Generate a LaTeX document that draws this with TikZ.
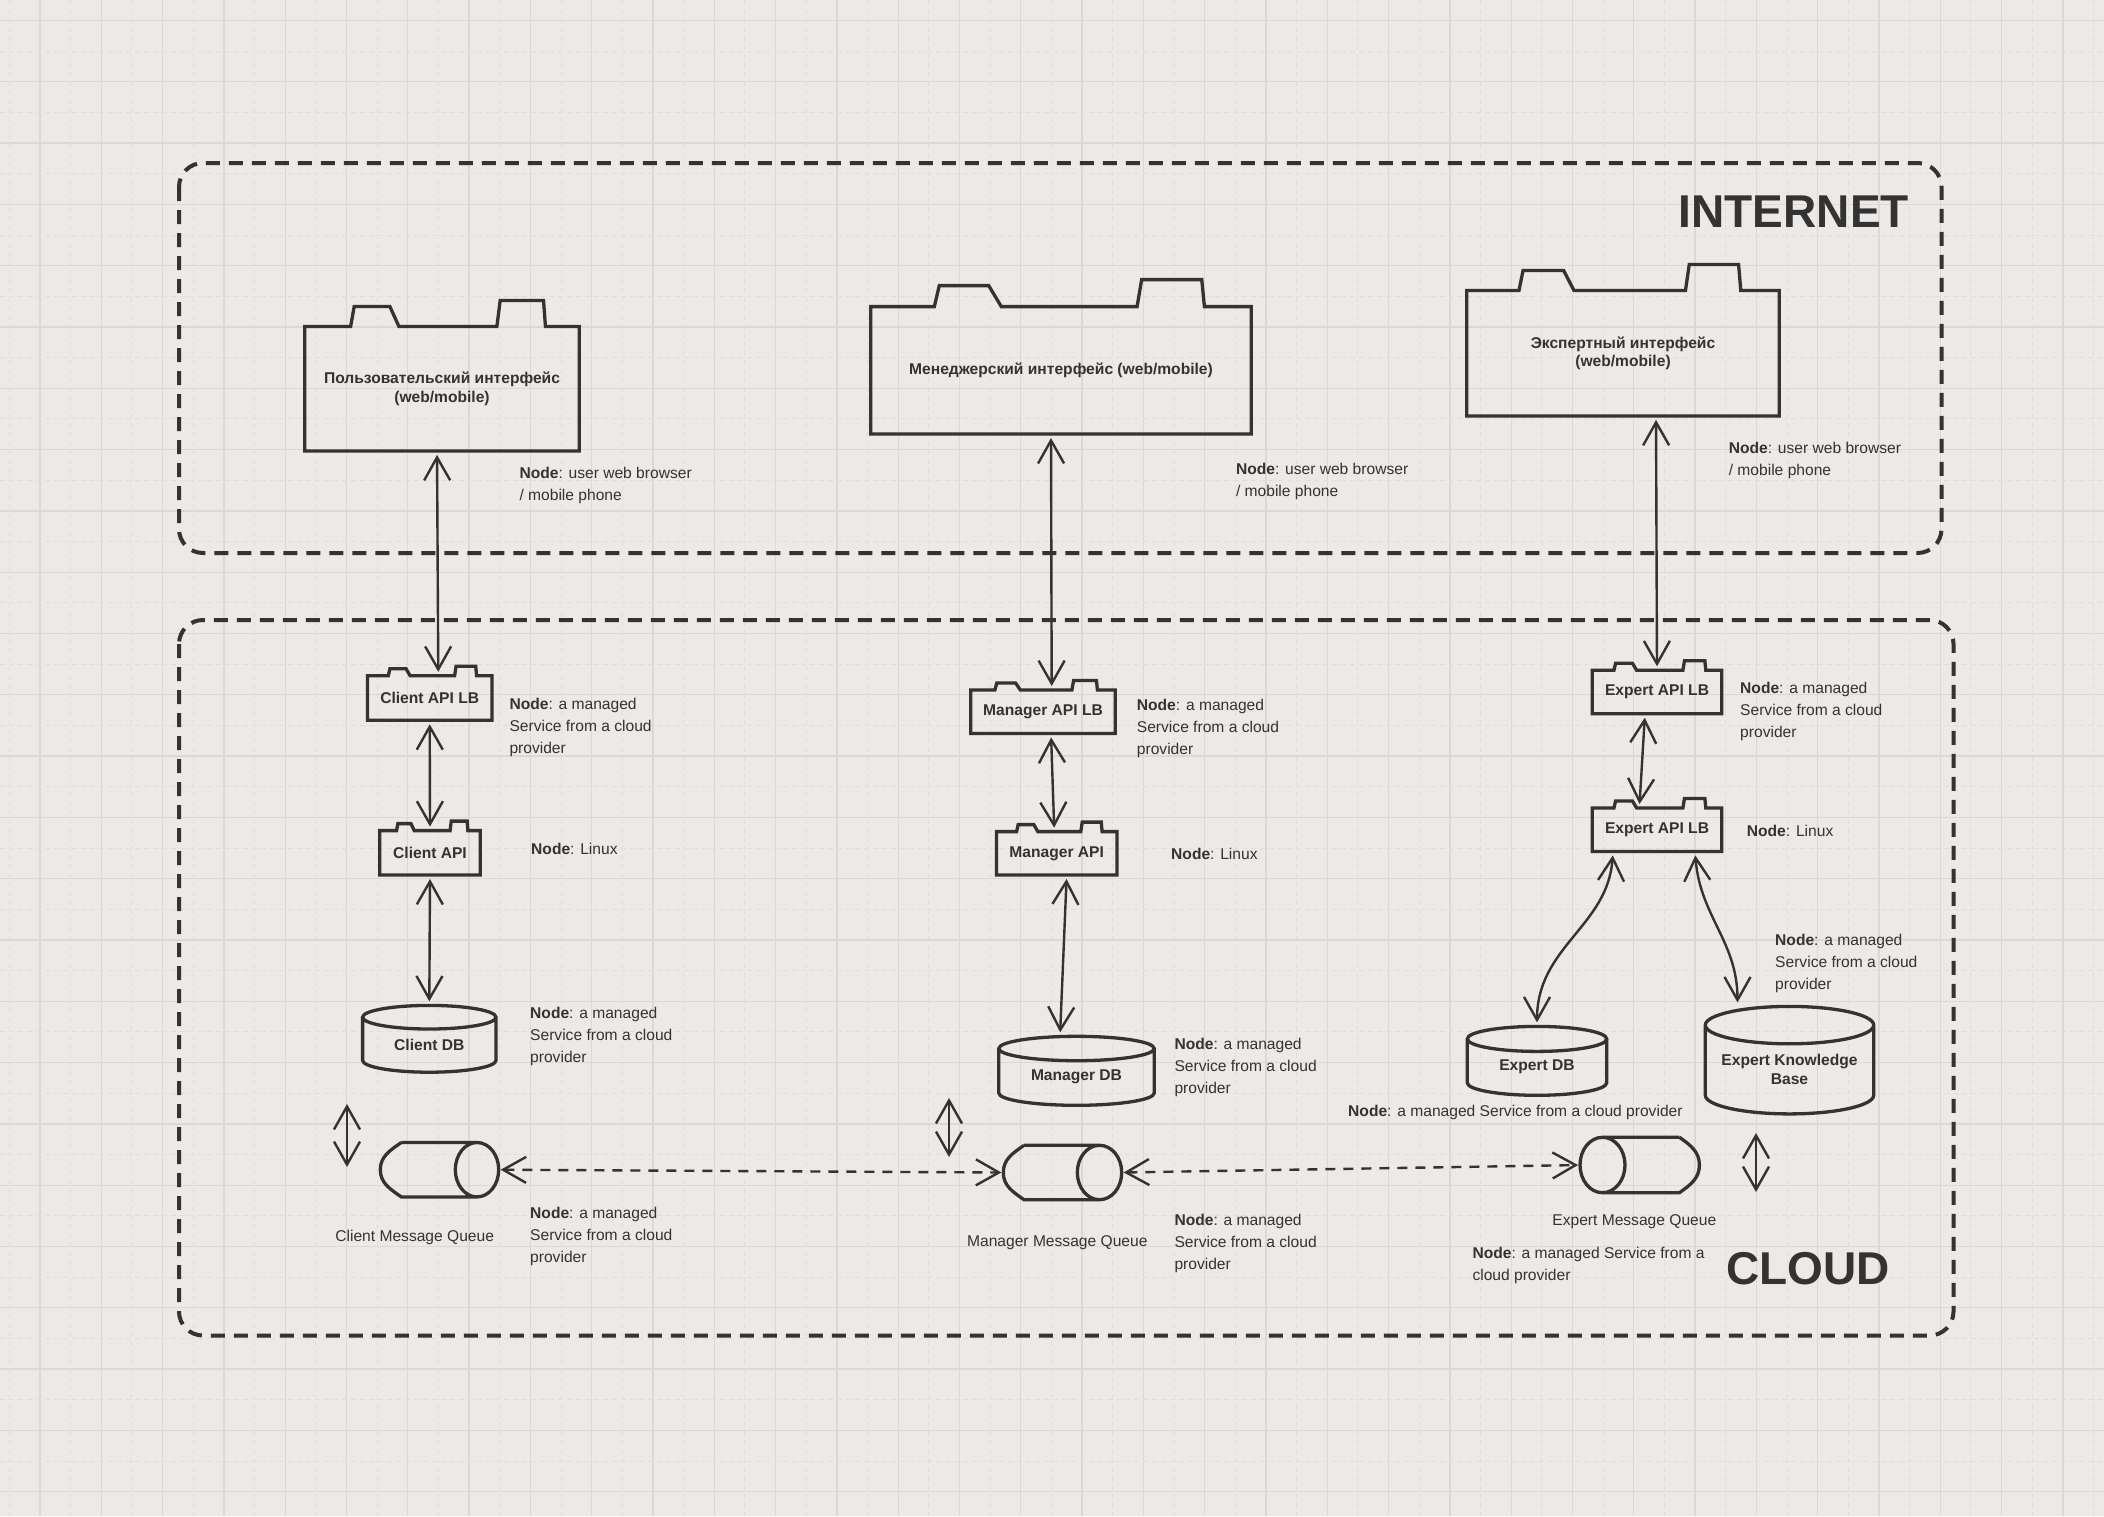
\documentclass[tikz,border=0pt]{standalone}
\usepackage{fontspec}
\setmainfont{Liberation Sans}
\usetikzlibrary{arrows.meta,calc}
\definecolor{inkc}{HTML}{333333}
\definecolor{paper}{HTML}{ECE9E6}
\definecolor{gridmaj}{HTML}{DBD8D5}
\definecolor{gridmin}{HTML}{E0DDDA}

\tikzset{
  ink/.style={draw=inkc, line width=3.3pt},
  zone/.style={draw=inkc, line width=4pt, dash pattern=on 14pt off 9pt, rounded corners=24pt},
  boxtext/.style={inner sep=0pt, text=inkc, align=center, font=\bfseries\fontsize{15.6}{18.5}\selectfont},
  qbox/.style={inner sep=0pt, draw=none},
  note/.style={anchor=west, inner sep=0pt, text=inkc, align=left, font=\fontsize{15.6}{22}\selectfont},
  qlabel/.style={inner sep=0pt, text=inkc, font=\fontsize{15.6}{18}\selectfont},
  title/.style={inner sep=0pt, text=inkc, font=\bfseries\fontsize{46}{46}\selectfont},
  barb/.tip={Straight Barb[length=23pt,width=26pt]},
  link/.style={draw=inkc, line width=2.4pt, barb-barb, shorten <=4pt, shorten >=4pt},
  qlink/.style={link, dash pattern=on 10pt off 8pt, shorten <=2pt, shorten >=2pt},
}

% package outline with two tabs
\newcommand{\pkgoutline}[3]{%
  \draw[ink] (#1.north west)
    -- ($(#1.north west)!.167!(#1.north east)$)
    -- ($(#1.north west)!.18!(#1.north east)+(0,-#2)$)
    -- ($(#1.north west)!.31!(#1.north east)+(0,-#2)$)
    -- ($(#1.north west)!.343!(#1.north east)$)
    -- ($(#1.north west)!.70!(#1.north east)$)
    -- ($(#1.north west)!.712!(#1.north east)+(0,-#3)$)
    -- ($(#1.north west)!.87!(#1.north east)+(0,-#3)$)
    -- ($(#1.north west)!.877!(#1.north east)$)
    -- (#1.north east) -- (#1.south east) -- (#1.south west) -- cycle;
}
% database cylinder
\newcommand{\dboutline}[2]{%
  \draw[ink] let \p1=(#1.north west), \p2=(#1.north east), \n1={(\x2-\x1)/2} in
    ($(#1.north)+(0,-#2)$) ellipse [x radius=\n1, y radius=#2pt]
    ($(#1.north west)+(0,-#2)$) -- (#1.south west)
      arc [start angle=180, end angle=360, x radius=\n1, y radius=#2pt]
      -- ($(#1.north east)+(0,-#2)$);
  \coordinate (#1-top) at ($(#1.north)+(0,{-2*#2})$);
}
% queue, end to the right
\newcommand{\queueoutline}[3]{%
  \draw[ink] let \p1=(#1.north), \p2=(#1.south), \n1={(\y1-\y2)/2} in
    ($(#1.north west)+(#3,0)$) to[out=215,in=90] (#1.west)
      to[out=-90,in=145] ($(#1.south west)+(#3,0)$)
      -- ($(#1.south east)+(-#2,0)$)
    ($(#1.north west)+(#3,0)$) -- ($(#1.north east)+(-#2,0)$)
    ($(#1.east)+(-#2,0)$) ellipse [x radius=#2pt, y radius=\n1];
}
% queue, end to the left
\newcommand{\queueoutlineR}[3]{%
  \draw[ink] let \p1=(#1.north), \p2=(#1.south), \n1={(\y1-\y2)/2} in
    ($(#1.north east)+(-#3,0)$) to[out=-35,in=90] (#1.east)
      to[out=-90,in=35] ($(#1.south east)+(-#3,0)$)
      -- ($(#1.south west)+(#2,0)$)
    ($(#1.north east)+(-#3,0)$) -- ($(#1.north west)+(#2,0)$)
    ($(#1.west)+(#2,0)$) ellipse [x radius=#2pt, y radius=\n1];
}

\begin{document}
\begin{tikzpicture}[x=1pt,y=-1pt]
\useasboundingbox (0,0) rectangle (2104,1516);
\fill[paper] (0,0) rectangle (2104,1516);
%grade
\foreach \i in {-1,...,34} {
  \draw[gridmin, line width=1pt, dash pattern=on 5pt off 4pt] ({70.65+61.3*\i},0) -- ++(0,1516);
  \draw[gridmaj, line width=1.3pt] ({40+61.3*\i},0) -- ++(0,1516);
}
\foreach \j in {-1,...,25} {
  \draw[gridmin, line width=1pt, dash pattern=on 5pt off 4pt] (0,{51.15+61.3*\j}) -- ++(2104,0);
  \draw[gridmaj, line width=1.3pt] (0,{20.5+61.3*\j}) -- ++(2104,0);
}

%zonas
\draw[zone] (179,163) rectangle (1941.5,553);
\draw[zone] (179,620) rectangle (1953.5,1335.5);
\node[title, anchor=east] (inet) at (1909,211.7) {INTERNET};
\node[title, anchor=west] (cloud) at (1726,1268.3) {CLOUD};

%interfaces
\node[boxtext, minimum width=274pt, minimum height=124pt] (cui) at (442,388.7) {Пользовательский интерфейс\\(web/mobile)};
\node[boxtext, minimum width=380pt, minimum height=127pt] (mui) at (1061,370.3) {Менеджерский интерфейс (web/mobile)};
\node[boxtext, minimum width=312pt, minimum height=125pt] (eui) at (1623,353.2) {Экспертный интерфейс\\(web/mobile)};
\pkgoutline{cui}{20}{26}
\pkgoutline{mui}{21}{27}
\pkgoutline{eui}{20}{26}

%api
\node[boxtext, minimum width=124pt, minimum height=44pt] (clb) at (429.7,698) {Client API LB};
\node[boxtext, minimum width=100pt, minimum height=44pt] (capi) at (430,852.8) {Client API};
\node[boxtext, minimum width=144pt, minimum height=43pt] (mlb) at (1043,711.7) {Manager API LB};
\node[boxtext, minimum width=120pt, minimum height=43pt] (mapi) at (1056.7,853.3) {Manager API};
\node[boxtext, minimum width=129pt, minimum height=43pt] (elb) at (1657,692) {Expert API LB};
\node[boxtext, minimum width=129pt, minimum height=43pt] (eapi) at (1657,829.7) {Expert API LB};
\foreach \n in {clb,capi,mlb,mapi,elb,eapi} {\pkgoutline{\n}{7}{9.5}}

%bases
\node[boxtext, minimum width=133pt, minimum height=31pt] (cdb) at (429.3,1044.7) {Client DB};
\node[boxtext, minimum width=155pt, minimum height=32pt] (mdb) at (1076.5,1076.9) {Manager DB};
\node[boxtext, minimum width=139pt, minimum height=31pt] (edb) at (1537,1067.1) {Expert DB};
\node[boxtext, minimum width=168pt, minimum height=51pt] (ekb) at (1789.5,1069.5) {Expert Knowledge\\Base};
\dboutline{cdb}{11.8}
\dboutline{mdb}{12.2}
\dboutline{edb}{12.5}
\dboutline{ekb}{18.7}

%filas
\node[qbox, minimum width=118pt, minimum height=54pt] (cq) at (439.5,1169.7) {};
\node[qbox, minimum width=118pt, minimum height=54pt] (mq) at (1062.5,1172.5) {};
\node[qbox, minimum width=119pt, minimum height=55pt] (eq) at (1639.7,1165) {};
\queueoutline{cq}{21.7}{21}
\queueoutline{mq}{22.2}{20.7}
\queueoutlineR{eq}{22.5}{20}
\node[qlabel] (cql) at (414.7,1237.7) {Client Message Queue};
\node[qlabel] (mql) at (1057.3,1242.7) {Manager Message Queue};
\node[qlabel] (eql) at (1634.3,1221.7) {Expert Message Queue};

%ligacoes
\draw[link] ([xshift=-5pt]cui.south) -- ([xshift=8.6pt]clb.north);
\draw[link] (clb.south) -- (capi.north);
\draw[link] (capi.south) -- (cdb-top);
\draw[link] ([xshift=-10pt]mui.south) -- ([xshift=8.7pt]mlb.north);
\draw[link] ([xshift=8pt]mlb.south) -- ([xshift=-2.4pt]mapi.north);
\draw[link] ([xshift=10pt]mapi.south) -- ([xshift=-16.5pt]mdb-top);
\draw[link] ([xshift=33pt]eui.south) -- (elb.north);
\draw[link] ([xshift=-12pt]elb.south) -- ([xshift=-17.7pt]eapi.north);
\draw[link] ([xshift=-44pt]eapi.south) .. controls +(-5,75) and +(0,-80) .. (edb-top);
\draw[link] ([xshift=38pt]eapi.south) .. controls +(5,65) and +(0,-65) .. ([xshift=-52pt]ekb-top);
\draw[qlink] (cq.east) -- (mq.west);
\draw[qlink] (mq.east) -- (eq.west);
\coordinate (ca1) at (347,1104);
\coordinate (ca2) at (347,1167);
\coordinate (ma1) at (949,1098);
\coordinate (ma2) at (949,1157);
\coordinate (ea1) at (1756,1133);
\coordinate (ea2) at (1756,1192);
\draw[link, shorten <=0pt, shorten >=0pt] (ca1) -- (ca2);
\draw[link, shorten <=0pt, shorten >=0pt] (ma1) -- (ma2);
\draw[link, shorten <=0pt, shorten >=0pt] (ea1) -- (ea2);

%rotulos
\node[note] (cuin) at (519.3,485.8) {\textbf{Node}: user web browser\\/ mobile phone};
\node[note] (muin) at (1235.8,481.7) {\textbf{Node}: user web browser\\/ mobile phone};
\node[note] (euin) at (1728.6,460.8) {\textbf{Node}: user web browser\\/ mobile phone};
\node[note] (clbn) at (509.3,727.8) {\textbf{Node}: a managed\\Service from a cloud\\provider};
\node[note] (capin) at (531,849) {\textbf{Node}: Linux};
\node[note] (cdbn) at (530,1036) {\textbf{Node}: a managed\\Service from a cloud\\provider};
\node[note] (cqn) at (530,1236.8) {\textbf{Node}: a managed\\Service from a cloud\\provider};
\node[note] (mlbn) at (1136.7,728) {\textbf{Node}: a managed\\Service from a cloud\\provider};
\node[note] (mapin) at (1171,854.3) {\textbf{Node}: Linux};
\node[note] (mdbn) at (1174.3,1067.8) {\textbf{Node}: a managed\\Service from a cloud\\provider};
\node[note] (mqn) at (1174.3,1243) {\textbf{Node}: a managed\\Service from a cloud\\provider};
\node[note] (elbn) at (1740,711.2) {\textbf{Node}: a managed\\Service from a cloud\\provider};
\node[note] (eapin) at (1746.7,830.7) {\textbf{Node}: Linux};
\node[note] (ekbn) at (1775,963.7) {\textbf{Node}: a managed\\Service from a cloud\\provider};
\node[note] (edbn) at (1348,1112.3) {\textbf{Node}: a managed Service from a cloud provider};
\node[note] (eqn) at (1472.3,1265.5) {\textbf{Node}: a managed Service from a\\cloud provider};
\end{tikzpicture}
\end{document}
